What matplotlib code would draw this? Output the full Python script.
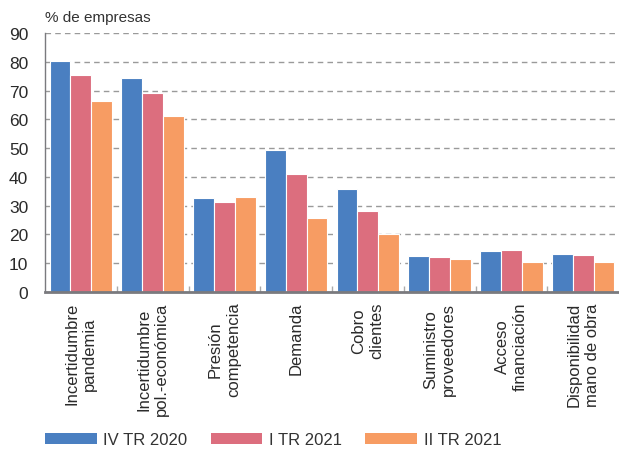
import matplotlib.pyplot as plt
import numpy as np
from matplotlib.patches import Patch

plt.rcParams["font.family"] = ["Liberation Sans", "DejaVu Sans"]

categories = [
    "Incertidumbre\npandemia",
    "Incertidumbre\npol.-económica",
    "Presión\ncompetencia",
    "Demanda",
    "Cobro\nclientes",
    "Suministro\nproveedores",
    "Acceso\nfinanciación",
    "Disponibilidad\nmano de obra",
]
series_names = ["IV TR 2020", "I TR 2021", "II TR 2021"]
iv_tr_2020 = [80.2, 74.3, 32.6, 49.4, 35.9, 12.6, 14.1, 13.1]
i_tr_2021 = [75.3, 69.2, 31.2, 41.0, 28.0, 12.3, 14.7, 12.8]
ii_tr_2021 = [66.5, 61.1, 33.0, 25.6, 20.0, 11.3, 10.5, 10.4]
y_ticks = [0, 10, 20, 30, 40, 50, 60, 70, 80, 90]

colors = ["#4a7fc1", "#dc6e7e", "#f79c63"]
grid_color = "#9a9a9a"
axis_color = "#7a7a7e"
text_color = "#2a2a2a"

fig = plt.figure(figsize=(6.19, 4.52), dpi=100)
ax = fig.add_axes([45 / 619, 1 - 293 / 452, 574 / 619, (293 - 34) / 452])

x = np.arange(len(categories))
width = 0.29
for i, (vals, col) in enumerate(zip([iv_tr_2020, i_tr_2021, ii_tr_2021], colors)):
    ax.bar(x + (i - 1) * width, vals, width, color=col,
           edgecolor="white", linewidth=0.8, zorder=3)

ax.set_xlim(-0.5, len(categories) - 0.5)
ax.set_ylim(0, 90)
ax.set_yticks(y_ticks)
ax.tick_params(axis="y", length=0, labelsize=12.5, pad=12, colors=text_color)
ax.yaxis.grid(True, linestyle=(0, (4, 3)), color=grid_color, linewidth=1, zorder=0)

ax.set_xticks(x)
ax.set_xticklabels(categories, rotation=90, fontsize=12, linespacing=1.25,
                   va="top", ha="center", color=text_color)
ax.tick_params(axis="x", which="major", length=0, pad=7)
ax.set_xticks(np.arange(0.5, len(categories) - 0.5, 1), minor=True)
ax.tick_params(axis="x", which="minor", direction="in", length=4,
               width=1, color="#aaaaaa")

for side in ["top", "right"]:
    ax.spines[side].set_visible(False)
ax.spines["left"].set_color(axis_color)
ax.spines["left"].set_linewidth(1)
ax.spines["bottom"].set_color(axis_color)
ax.spines["bottom"].set_linewidth(2)
ax.spines["bottom"].set_zorder(4)

fig.text(45 / 619, 1 - 18 / 452, "% de empresas", fontsize=11,
         color="#333333", va="center", ha="left")

handles = [Patch(facecolor=c, edgecolor="none") for c in colors]
fig.legend(handles, series_names, loc="center left", ncol=3,
           bbox_to_anchor=(45 / 619, 1 - 441 / 452), frameon=False,
           fontsize=12, labelcolor="#333333", handlelength=3.1,
           handleheight=0.65, handletextpad=0.4, columnspacing=1.4,
           borderpad=0, borderaxespad=0)

fig.savefig("out.png", dpi=100)
